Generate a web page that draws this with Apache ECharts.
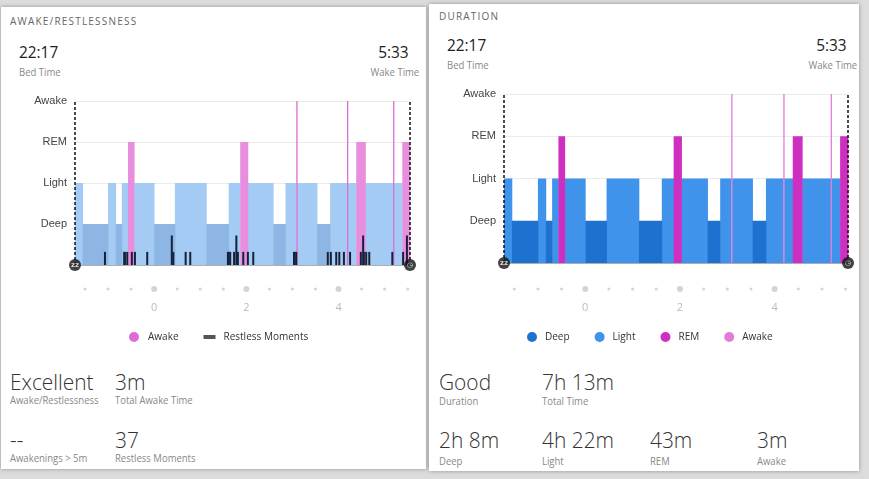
<!DOCTYPE html>
<html>
<head>
<meta charset="utf-8">
<script src="https://cdn.jsdelivr.net/npm/echarts@6.0.0/dist/echarts.min.js"></script>
<style>
  body { margin: 0; width: 869px; height: 479px; background: #dcdcdc; overflow: hidden; position: relative; font-family: 'Open Sans', sans-serif; }
  .card { position: absolute; background: #fff; box-shadow: 0 0 4px rgba(0, 0, 0, 0.35); }
  .chart { position: absolute; }
  .t { position: absolute; line-height: 1; white-space: nowrap; transform-origin: 0 50%; }
  .r { transform-origin: 100% 50%; }
  .head { font-size: 10px; letter-spacing: 1.2px; color: #666; }
  .time { font-size: 16px; color: #222; transform: scaleX(0.96); }
  .sub { font-size: 10px; color: #888; transform: scaleX(0.95); }
  .big { font-size: 22px; font-weight: 300; color: #333; transform: scaleX(0.95); }
</style>
</head>
<body>
<div class="card" style="left:1px; top:7px; width:425px; height:462px"></div>
<div class="card" style="left:429px; top:4px; width:430px; height:467px"></div>

<div id="awake_chart" class="chart" style="left:0; top:85px; width:428px; height:265px"></div>
<div id="duration_chart" class="chart" style="left:430px; top:80px; width:430px; height:270px"></div>

<!-- left card texts -->
<span class="t head" style="left:10px; top:16px">AWAKE/RESTLESSNESS</span>
<span class="t time" style="left:19px; top:44px">22:17</span>
<span class="t sub" style="left:19px; top:67px">Bed Time</span>
<span class="t time r" style="right:460px; top:44px">5:33</span>
<span class="t sub r" style="right:450px; top:67px">Wake Time</span>

<span class="t big" style="left:10px; top:370px">Excellent</span>
<span class="t sub" style="left:10px; top:395px">Awake/Restlessness</span>
<span class="t big" style="left:115px; top:370px">3m</span>
<span class="t sub" style="left:115px; top:395px">Total Awake Time</span>
<span class="t big" style="left:10px; top:428px">--</span>
<span class="t sub" style="left:10px; top:453px">Awakenings &gt; 5m</span>
<span class="t big" style="left:115px; top:428px">37</span>
<span class="t sub" style="left:115px; top:453px">Restless Moments</span>

<!-- right card texts -->
<span class="t head" style="left:439px; top:11px">DURATION</span>
<span class="t time" style="left:447px; top:37px">22:17</span>
<span class="t sub" style="left:447px; top:60px">Bed Time</span>
<span class="t time r" style="right:22px; top:37px">5:33</span>
<span class="t sub r" style="right:12px; top:60px">Wake Time</span>

<span class="t big" style="left:439px; top:370px">Good</span>
<span class="t sub" style="left:439px; top:396px">Duration</span>
<span class="t big" style="left:542px; top:370px">7h 13m</span>
<span class="t sub" style="left:542px; top:396px">Total Time</span>
<span class="t big" style="left:439px; top:428px">2h 8m</span>
<span class="t sub" style="left:439px; top:456px">Deep</span>
<span class="t big" style="left:542px; top:428px">4h 22m</span>
<span class="t sub" style="left:542px; top:456px">Light</span>
<span class="t big" style="left:650px; top:428px">43m</span>
<span class="t sub" style="left:650px; top:456px">REM</span>
<span class="t big" style="left:757px; top:428px">3m</span>
<span class="t sub" style="left:757px; top:456px">Awake</span>

<script>
// 睡眠数据
let bedTime = '22:17'
let wakeTime = '05:33'

// y 轴等级 (0 为基线)
let stageLevels = ['', 'Deep', 'Light', 'REM', 'Awake']

// [开始, 结束, 阶段]
let segments = [
  ['22:17', '22:27', 'Light'],
  ['22:27', '23:00', 'Deep'],
  ['23:00', '23:10', 'Light'],
  ['23:10', '23:18', 'Deep'],
  ['23:18', '23:26', 'Light'],
  ['23:26', '23:34', 'REM'],
  ['23:34', '00:00', 'Light'],
  ['00:00', '00:27', 'Deep'],
  ['00:27', '01:08', 'Light'],
  ['01:08', '01:37', 'Deep'],
  ['01:37', '01:52', 'Light'],
  ['01:52', '02:02', 'REM'],
  ['02:02', '02:35', 'Light'],
  ['02:35', '02:51', 'Deep'],
  ['02:51', '03:05', 'Light'],
  ['03:05', '03:06', 'Awake'],
  ['03:06', '03:32', 'Light'],
  ['03:32', '03:49', 'Deep'],
  ['03:49', '04:11', 'Light'],
  ['04:11', '04:12', 'Awake'],
  ['04:12', '04:23', 'Light'],
  ['04:23', '04:35', 'REM'],
  ['04:35', '05:11', 'Light'],
  ['05:11', '05:12', 'Awake'],
  ['05:12', '05:23', 'Light'],
  ['05:23', '05:33', 'REM']
]

// restless moments: 时间 / 高度
let restlessTimes = [
  '22:56', '23:21', '23:22', '23:25', '23:31', '23:35', '23:51', '00:23', '00:25', '00:41',
  '00:47', '01:36', '01:37', '01:39', '01:44', '01:47', '01:49', '01:56', '02:02', '02:09',
  '03:02', '03:03', '03:05', '03:46', '03:50', '03:57', '04:01', '04:07', '04:15', '04:29',
  '04:32', '04:33', '04:36', '04:40', '05:10', '05:24', '05:29'
]
let restlessHeights = [
  0.32, 0.32, 0.32, 0.32, 0.32, 0.32, 0.32, 0.72, 0.32, 0.32,
  0.32, 0.32, 0.32, 0.32, 0.32, 0.72, 0.32, 0.32, 0.32, 0.32,
  0.32, 0.32, 0.32, 0.32, 0.32, 0.32, 0.32, 0.32, 0.32, 0.32,
  0.72, 0.32, 0.32, 0.32, 0.32, 0.32, 0.72
]

// 时间轴圆点
let dotTimes = [
  '22:30', '23:00', '23:30', '00:00', '00:30', '01:00', '01:30', '02:00',
  '02:30', '03:00', '03:30', '04:00', '04:30', '05:00', '05:30'
]
let hourTicks = ['00:00', '02:00', '04:00']
let hourLabels = ['0', '2', '4']

let awakeColors = { Light: '#a3cbf3', Deep: '#8db6e4', REM: '#e78fde', Awake: '#dc6cd7' }
let durationColors = { Deep: '#1d72cf', Light: '#3f93ea', REM: '#cf2fc0', Awake: '#e27cdb' }

function toMin(clock) {
  let parts = clock.split(':')
  let m = parseInt(parts[0]) * 60 + parseInt(parts[1])
  if (m < 12 * 60) m += 24 * 60
  let b = bedTime.split(':')
  return m - (parseInt(b[0]) * 60 + parseInt(b[1]))
}

let totalMin = toMin(wakeTime)
let hourTickMin = hourTicks.map(toMin)

function stageRender(params, api) {
  let p0 = api.coord([api.value(0), api.value(2)])
  let p1 = api.coord([api.value(1), 0])
  let w = Math.max(p1[0] - p0[0] + 0.4, 1.3)
  return {
    type: 'rect',
    shape: { x: p0[0], y: p0[1], width: w, height: p1[1] - p0[1] },
    style: { fill: api.visual('color') }
  }
}

function restlessRender(params, api) {
  let top = api.coord([api.value(0), api.value(1)])
  let base = api.coord([api.value(0), 0])
  return {
    type: 'rect',
    shape: { x: top[0] - 1, y: top[1], width: 2, height: base[1] - top[1] },
    style: { fill: api.visual('color') }
  }
}

function stageSeries(stage, colors) {
  let data = []
  for (let i = 0; i < segments.length; i++) {
    const seg = segments[i]
    if (seg[2] === stage) {
      data.push([toMin(seg[0]), toMin(seg[1]), stageLevels.indexOf(stage)])
    }
  }
  return {
    name: stage,
    type: 'custom',
    xAxisIndex: 0,
    yAxisIndex: 0,
    renderItem: stageRender,
    itemStyle: { color: colors[stage] },
    encode: { x: [0, 1], y: 2 },
    data: data
  }
}

function edgeSeries() {
  return {
    name: 'edges',
    type: 'scatter',
    xAxisIndex: 0,
    yAxisIndex: 0,
    clip: false,
    z: 5,
    symbol: 'circle',
    symbolSize: 12,
    itemStyle: { color: '#111' },
    label: {
      show: true,
      position: 'inside',
      formatter: function (p) { return p.dataIndex === 0 ? 'zz' : '◷' },
      color: '#fff',
      fontSize: 7,
      fontWeight: 'bold',
      fontFamily: 'DejaVu Sans'
    },
    data: [[0, 0], [totalMin, 0]],
    markLine: {
      silent: true,
      symbol: ['none', 'none'],
      label: { show: false },
      lineStyle: { color: '#111', type: [3, 2], width: 1.5 },
      data: [{ xAxis: 0 }, { xAxis: totalMin }]
    }
  }
}

function dotSeries() {
  let data = []
  for (let i = 0; i < dotTimes.length; i++) {
    data.push([toMin(dotTimes[i]), 0.5])
  }
  return {
    name: 'dots',
    type: 'scatter',
    xAxisIndex: 1,
    yAxisIndex: 1,
    clip: false,
    symbolSize: function (v) { return hourTickMin.indexOf(v[0]) >= 0 ? 6 : 3 },
    itemStyle: { color: '#c9c9c9' },
    data: data
  }
}

function chartsInit(chartDom, gridLeft, gridTop, gridWidth, gridHeight, dotTop, series, legend) {
  let chart = echarts.init(chartDom)

  let option = {
    animation: false,
    grid: [
      { left: gridLeft, top: gridTop, width: gridWidth, height: gridHeight },
      { left: gridLeft, top: dotTop, width: gridWidth, height: 12 }
    ],
    xAxis: [
      {
        gridIndex: 0, type: 'value', min: 0, max: totalMin,
        axisLine: { show: true, lineStyle: { color: '#9a9a9a', width: 1.5 } },
        axisTick: { show: false },
        axisLabel: { show: false },
        splitLine: { show: false }
      },
      {
        gridIndex: 1, type: 'value', min: 0, max: totalMin,
        axisLine: { show: false },
        axisTick: { show: false },
        splitLine: { show: false },
        axisLabel: {
          customValues: hourTickMin,
          margin: 7,
          color: '#bbb',
          fontSize: 11,
          fontFamily: 'Open Sans',
          formatter: function (v) { return hourLabels[hourTickMin.indexOf(v)] }
        }
      }
    ],
    yAxis: [
      {
        gridIndex: 0, type: 'value', min: 0, max: 4, interval: 1,
        axisLine: { show: false },
        axisTick: { show: false },
        axisLabel: {
          margin: 8,
          color: '#444',
          fontSize: 11,
          fontFamily: 'Liberation Sans',
          padding: [0, 0, 10, 0],
          formatter: function (v) { return stageLevels[v] }
        },
        splitLine: { lineStyle: { color: '#ebebeb' } }
      },
      { gridIndex: 1, type: 'value', min: 0, max: 1, show: false }
    ],
    legend: legend,
    series: series
  }

  chart.setOption(option)
}

// 左: awake / restlessness
let awakeSeries = [
  stageSeries('Light', awakeColors),
  stageSeries('Deep', awakeColors),
  stageSeries('REM', awakeColors),
  stageSeries('Awake', awakeColors)
]
let restlessData = []
for (let i = 0; i < restlessTimes.length; i++) {
  restlessData.push([toMin(restlessTimes[i]), restlessHeights[i]])
}
awakeSeries.push({
  name: 'Restless Moments',
  type: 'custom',
  xAxisIndex: 0,
  yAxisIndex: 0,
  renderItem: restlessRender,
  itemStyle: { color: '#17223a' },
  encode: { x: 0, y: 1 },
  data: restlessData
})
awakeSeries.push(edgeSeries())
awakeSeries.push(dotSeries())

chartsInit(document.getElementById('awake_chart'), 75, 16, 335, 164, 198, awakeSeries, {
  top: 242,
  left: 124,
  itemWidth: 12,
  itemHeight: 10,
  itemGap: 25,
  selectedMode: false,
  textStyle: { color: '#333', fontSize: 10, fontFamily: 'Open Sans', padding: [0, 0, 0, 3] },
  data: [
    { name: 'Awake', icon: 'circle' },
    { name: 'Restless Moments', icon: 'path://M0,0L12,0L12,4L0,4Z', itemStyle: { color: '#555' } }
  ]
})

// 右: duration
let durationSeries = [
  stageSeries('Light', durationColors),
  stageSeries('Deep', durationColors),
  stageSeries('REM', durationColors),
  stageSeries('Awake', durationColors),
  edgeSeries(),
  dotSeries()
]

chartsInit(document.getElementById('duration_chart'), 74, 14, 344, 169, 203, durationSeries, {
  top: 247,
  left: 92,
  itemWidth: 10,
  itemHeight: 10,
  itemGap: 25,
  selectedMode: false,
  icon: 'circle',
  textStyle: { color: '#333', fontSize: 10, fontFamily: 'Open Sans', padding: [0, 0, 0, 3] },
  data: ['Deep', 'Light', 'REM', 'Awake']
})
</script>
</body>
</html>
